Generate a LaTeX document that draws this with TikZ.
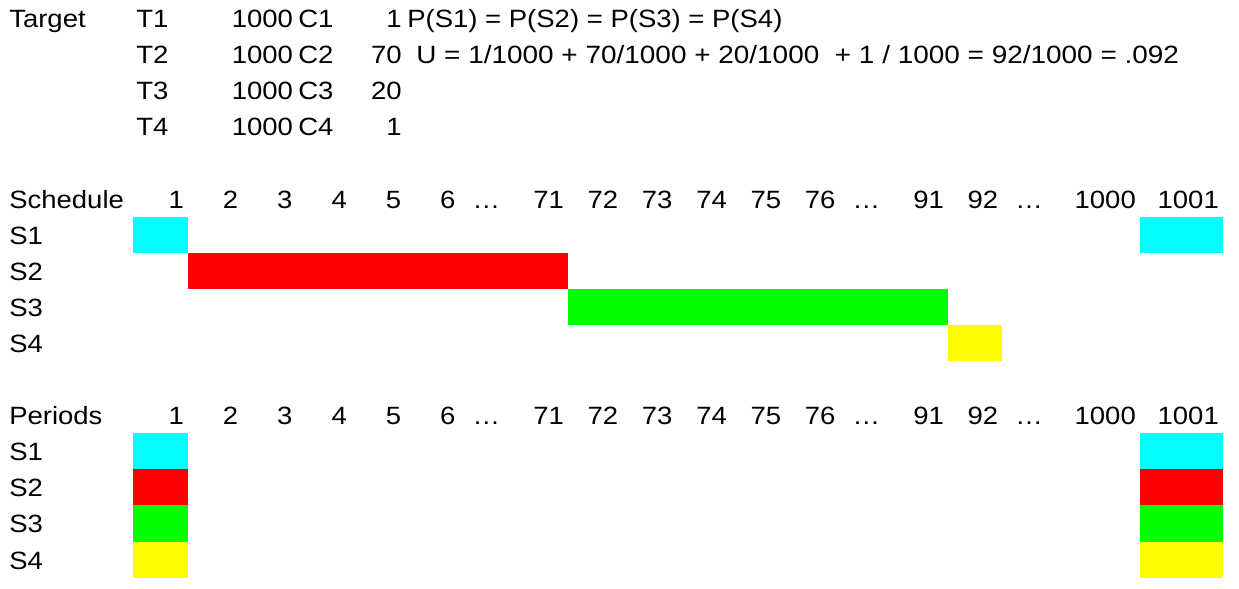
\documentclass[tikz,border=0pt]{standalone}
\usepackage{fontspec}
\setmainfont[FakeStretch=1.1]{Liberation Sans}
\definecolor{cc}{HTML}{00FFFF}
\definecolor{cr}{HTML}{FF0000}
\definecolor{cg}{HTML}{00FF00}
\definecolor{cy}{HTML}{FFFF00}
\begin{document}
\begin{tikzpicture}[x=0.75pt,y=-0.75pt,
  txt/.style={inner sep=0pt,font=\fontsize{18.75}{22}\selectfont},
  num/.style={txt,anchor=base east},
  lft/.style={txt,anchor=base west},
  ctr/.style={txt,anchor=base},
  cell/.style={draw=none}]
\useasboundingbox (0,0) rectangle (1239,589);
% ---- top block ----
\node[lft] (target) at (9,27.5) {Target};
\foreach \r/\yb in {1/27.5,2/63.6,3/99.7,4/135.8}{
  \node[lft] (t\r) at (136,\yb) {T\r};
  \node[num] (d\r) at (293.3,\yb) {1000};
  \node[lft] (c\r) at (298,\yb) {C\r};
}
\node[num] (v1) at (402,27.5) {1};
\node[num] (v2) at (402,63.6) {70};
\node[num] (v3) at (402,99.7) {20};
\node[num] (v4) at (402,135.8) {1};
\node[lft] (prob) at (407,27.5) {P(S1) = P(S2) = P(S3) = P(S4)};
\node[lft] (util) at (416,63.6) {\scalebox{1.016}[1]{U = 1/1000 + 70/1000 + 20/1000 \ + 1 / 1000 = 92/1000 = .092}};
% ---- colour cells ----
\fill[cc] (133,216.6) rectangle (187.7,252.7);
\fill[cc] (1139.6,216.6) rectangle (1222.6,252.7);
\fill[cr] (187.7,252.7) rectangle (567.7,288.8);
\fill[cg] (567.7,288.8) rectangle (947.7,324.9);
\fill[cy] (947.7,324.9) rectangle (1002,361);
\foreach \xa/\xb in {133/187.7,1139.6/1222.6}{
  \fill[cc] (\xa,433.2) rectangle (\xb,469.3);
  \fill[cr] (\xa,469.3) rectangle (\xb,505.4);
  \fill[cg] (\xa,505.4) rectangle (\xb,541.5);
  \fill[cy] (\xa,541.5) rectangle (\xb,577.6);
}
% ---- row labels ----
\node[lft] (sched) at (9,208) {Schedule};
\node[lft] (per) at (9,424.6) {Periods};
\foreach \s/\ya/\yb in {1/244.1/460.7,2/280.2/496.8,3/316.3/532.9,4/352.4/569}{
  \node[lft] (ss\s) at (9,\ya) {S\s};
  \node[lft] (ps\s) at (9,\yb) {S\s};
}
% ---- column headers ----
\foreach \yb/\p in {208/s,424.6/p}{
  \foreach \lab/\xr [count=\i] in {1/187.7,2/242,3/296.3,4/350.6,5/404.9,6/459.1,71/567.7,72/622,73/676.3,74/730.6,75/784.9,76/839.1,91/947.7,92/1002,1000/1139.6,1001/1222.6}{
    \node[num] (h\p\i) at (\xr-3.5,\yb) {\lab};
  }
  \node[ctr] (dots\p a) at (486.3,\yb) {\dots};
  \node[ctr] (dots\p b) at (866.3,\yb) {\dots};
  \node[ctr] (dots\p c) at (1029.2,\yb) {\dots};
}
\end{tikzpicture}
\end{document}
